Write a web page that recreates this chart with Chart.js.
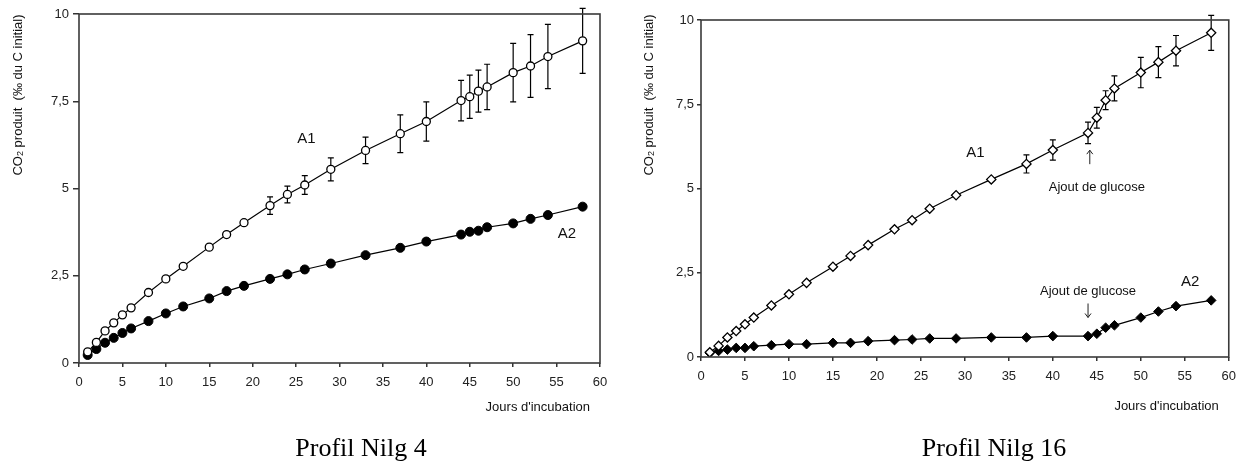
<!DOCTYPE html>
<html>
<head>
<meta charset="utf-8">
<script src="https://cdn.jsdelivr.net/npm/chart.js@4.4.0/dist/chart.umd.min.js"></script>
<style>
  html, body { margin: 0; padding: 0; background: #fff; }
  #wrap { position: relative; width: 1244px; height: 461px; }
  .box { position: absolute; top: 0; width: 622px; height: 461px; }
</style>
</head>
<body>
<div id="wrap">
  <div class="box" style="left:0"><canvas id="nilg4" width="622" height="461"></canvas></div>
  <div class="box" style="left:622px"><canvas id="nilg16" width="622" height="461"></canvas></div>
</div>
<script>
// jours d'incubation (mêmes dates pour les deux profils)
const days = [1, 2, 3, 4, 5, 6, 8, 10, 12, 15, 17, 19, 22, 24, 26, 29, 33, 37, 40, 44, 45, 46, 47, 50, 52, 54, 58];

// Profil Nilg 4
const nilg4A1 = [0.32, 0.59, 0.92, 1.15, 1.38, 1.58, 2.02, 2.41, 2.77, 3.32, 3.68, 4.02, 4.51, 4.83, 5.10, 5.55, 6.09, 6.57, 6.92, 7.52, 7.63, 7.79, 7.91, 8.32, 8.51, 8.78, 9.23];
const nilg4A1Err = [0, 0, 0, 0, 0, 0, 0, 0, 0, 0, 0, 0, 0.25, 0.24, 0.27, 0.33, 0.38, 0.54, 0.56, 0.58, 0.62, 0.60, 0.65, 0.84, 0.90, 0.92, 0.93];
const nilg4A2 = [0.23, 0.40, 0.58, 0.72, 0.86, 0.99, 1.20, 1.42, 1.62, 1.85, 2.06, 2.21, 2.41, 2.54, 2.68, 2.85, 3.09, 3.30, 3.48, 3.68, 3.76, 3.79, 3.89, 4.00, 4.13, 4.24, 4.48];

// Profil Nilg 16
const nilg16A1 = [0.14, 0.33, 0.58, 0.77, 0.97, 1.17, 1.53, 1.86, 2.20, 2.68, 3.00, 3.32, 3.79, 4.06, 4.40, 4.80, 5.27, 5.73, 6.14, 6.65, 7.10, 7.62, 7.97, 8.44, 8.75, 9.09, 9.62];
const nilg16A1Err = [0, 0, 0, 0, 0, 0, 0, 0, 0, 0, 0, 0, 0, 0, 0, 0, 0, 0.27, 0.30, 0.32, 0.31, 0.28, 0.37, 0.45, 0.46, 0.45, 0.52];
const nilg16A2 = [0.12, 0.18, 0.22, 0.27, 0.27, 0.32, 0.35, 0.38, 0.38, 0.42, 0.42, 0.47, 0.50, 0.52, 0.55, 0.55, 0.58, 0.58, 0.62, 0.62, 0.69, 0.87, 0.94, 1.17, 1.35, 1.51, 1.68];

const xTicks = [0, 5, 10, 15, 20, 25, 30, 35, 40, 45, 50, 55, 60];
const yTicks = [0, 2.5, 5, 7.5, 10];

const SANS = "'Liberation Sans', Arial, sans-serif";
Chart.defaults.font.family = SANS;
Chart.defaults.color = "#222";

const pts = (vals) => days.map((d, i) => ({ x: d, y: vals[i] }));

// barres d'erreur, cadre et textes
const extras = {
  id: "extras",
  beforeDatasetsDraw(chart, args, opts) {
    const { ctx, scales: { x, y } } = chart;
    ctx.save();
    ctx.strokeStyle = "#000";
    ctx.lineWidth = 1.2;
    opts.errors.forEach((e, i) => {
      if (!e) return;
      const px = x.getPixelForValue(days[i]);
      const top = y.getPixelForValue(opts.values[i] + e);
      const bot = y.getPixelForValue(opts.values[i] - e);
      ctx.beginPath();
      ctx.moveTo(px, top); ctx.lineTo(px, bot);
      ctx.moveTo(px - 3, top); ctx.lineTo(px + 3, top);
      ctx.moveTo(px - 3, bot); ctx.lineTo(px + 3, bot);
      ctx.stroke();
    });
    ctx.restore();
  },
  afterDraw(chart, args, opts) {
    const { ctx, chartArea: a, scales: { x, y } } = chart;
    ctx.save();
    ctx.strokeStyle = "#3a3a3a";
    ctx.lineWidth = 1.6;
    ctx.strokeRect(a.left, a.top, a.right - a.left, a.bottom - a.top);

    ctx.fillStyle = "#111";
    ctx.textAlign = "center";
    ctx.textBaseline = "middle";
    opts.labels.forEach((l) => {
      ctx.font = l.size + "px " + SANS;
      ctx.fillText(l.text, x.getPixelForValue(l.x), y.getPixelForValue(l.y));
    });

    // flèches "ajout de glucose"
    ctx.strokeStyle = "#222";
    ctx.lineWidth = 1;
    opts.arrows.forEach((ar) => {
      const px = x.getPixelForValue(ar.x);
      const py = y.getPixelForValue(ar.y);
      const tip = ar.up ? py - 7 : py + 7;
      const tail = ar.up ? py + 7 : py - 7;
      const d = ar.up ? 4 : -4;
      ctx.beginPath();
      ctx.moveTo(px, tail); ctx.lineTo(px, tip);
      ctx.moveTo(px - 3, tip + d); ctx.lineTo(px, tip); ctx.lineTo(px + 3, tip + d);
      ctx.stroke();
    });

    ctx.font = "13px " + SANS;
    ctx.textAlign = "right";
    ctx.fillText("Jours d'incubation", a.right - 10, opts.xTitleY);

    // titre vertical avec CO2 en indice
    ctx.translate(opts.yTitleX, 95);
    ctx.rotate(-Math.PI / 2);
    const big = "13px " + SANS, small = "9px " + SANS;
    const rest = " produit  (‰ du C initial)";
    ctx.font = big;
    const wCO = ctx.measureText("CO").width, wRest = ctx.measureText(rest).width;
    ctx.font = small;
    const w2 = ctx.measureText("2").width;
    let cx = -(wCO + w2 + wRest) / 2;
    ctx.textAlign = "left";
    ctx.font = big;
    ctx.fillText("CO", cx, 0);
    cx += wCO;
    ctx.font = small;
    ctx.fillText("2", cx, 3);
    cx += w2;
    ctx.font = big;
    ctx.fillText(rest, cx, 0);
    ctx.restore();

    ctx.save();
    ctx.fillStyle = "#000";
    ctx.font = "26px 'Liberation Serif', 'Times New Roman', serif";
    ctx.textAlign = "center";
    ctx.textBaseline = "alphabetic";
    ctx.fillText(opts.title, opts.titleX, 456);
    ctx.restore();
  }
};

function makeChart(id, c) {
  return new Chart(document.getElementById(id), {
    type: "scatter",
    data: {
      datasets: [
        {
          label: "A1",
          data: pts(c.a1),
          showLine: true,
          borderColor: "#000",
          borderWidth: 1.2,
          pointStyle: c.shape,
          pointRadius: c.shape === "circle" ? 4 : 4.6,
          pointBackgroundColor: "#fff",
          pointBorderColor: "#000",
          pointBorderWidth: 1.3
        },
        {
          label: "A2",
          data: pts(c.a2),
          showLine: true,
          borderColor: "#000",
          borderWidth: 1.2,
          pointStyle: c.shape,
          pointRadius: c.shape === "circle" ? 4.5 : 4.8,
          pointBackgroundColor: "#000",
          pointBorderColor: "#000",
          pointBorderWidth: 1
        }
      ]
    },
    options: {
      responsive: false,
      animation: false,
      layout: { padding: { top: c.top, right: c.right, bottom: 0, left: 0 } },
      scales: {
        x: {
          type: "linear",
          min: 0,
          max: 60,
          afterFit: (s) => { s.height = c.xHeight; },
          afterBuildTicks: (s) => { s.ticks = xTicks.map((v) => ({ value: v })); },
          border: { display: false },
          grid: { drawOnChartArea: false, tickLength: 4, color: "#333", lineWidth: 1.5 },
          ticks: { padding: 8, font: { size: 13 }, maxRotation: 0, autoSkip: false }
        },
        y: {
          min: 0,
          max: 10,
          afterFit: (s) => { s.width = 79; },
          afterBuildTicks: (s) => { s.ticks = yTicks.map((v) => ({ value: v })); },
          border: { display: false },
          grid: { drawOnChartArea: false, tickLength: c.yTick, color: "#333", lineWidth: 1.5 },
          ticks: { padding: c.yPad, font: { size: 13 }, callback: (v) => String(v).replace(".", ",") }
        }
      },
      plugins: {
        legend: { display: false },
        tooltip: { enabled: false },
        extras: {
          values: c.a1,
          errors: c.err,
          labels: c.labels,
          arrows: c.arrows,
          title: c.title,
          titleX: c.titleX,
          xTitleY: c.xTitleY,
          yTitleX: c.yTitleX
        }
      }
    },
    plugins: [extras]
  });
}

makeChart("nilg4", {
  a1: nilg4A1, a2: nilg4A2, err: nilg4A1Err, shape: "circle",
  top: 14, right: 22, xHeight: 98, yTick: 6, yPad: 4,
  title: "Profil Nilg 4", titleX: 361, xTitleY: 407, yTitleX: 18,
  labels: [
    { text: "A1", x: 26.2, y: 6.42, size: 15 },
    { text: "A2", x: 56.2, y: 3.70, size: 15 }
  ],
  arrows: []
});

makeChart("nilg16", {
  a1: nilg16A1, a2: nilg16A2, err: nilg16A1Err, shape: "rectRot",
  top: 20, right: 12, xHeight: 104, yTick: 4, yPad: 3,
  title: "Profil Nilg 16", titleX: 372, xTitleY: 406, yTitleX: 27,
  labels: [
    { text: "A1", x: 31.2, y: 6.05, size: 15 },
    { text: "Ajout de glucose", x: 45.0, y: 5.04, size: 13 },
    { text: "A2", x: 55.6, y: 2.22, size: 15 },
    { text: "Ajout de glucose", x: 44.0, y: 1.95, size: 13 }
  ],
  arrows: [
    { x: 44.2, y: 5.93, up: true },
    { x: 44.0, y: 1.38, up: false }
  ]
});
</script>
</body>
</html>
